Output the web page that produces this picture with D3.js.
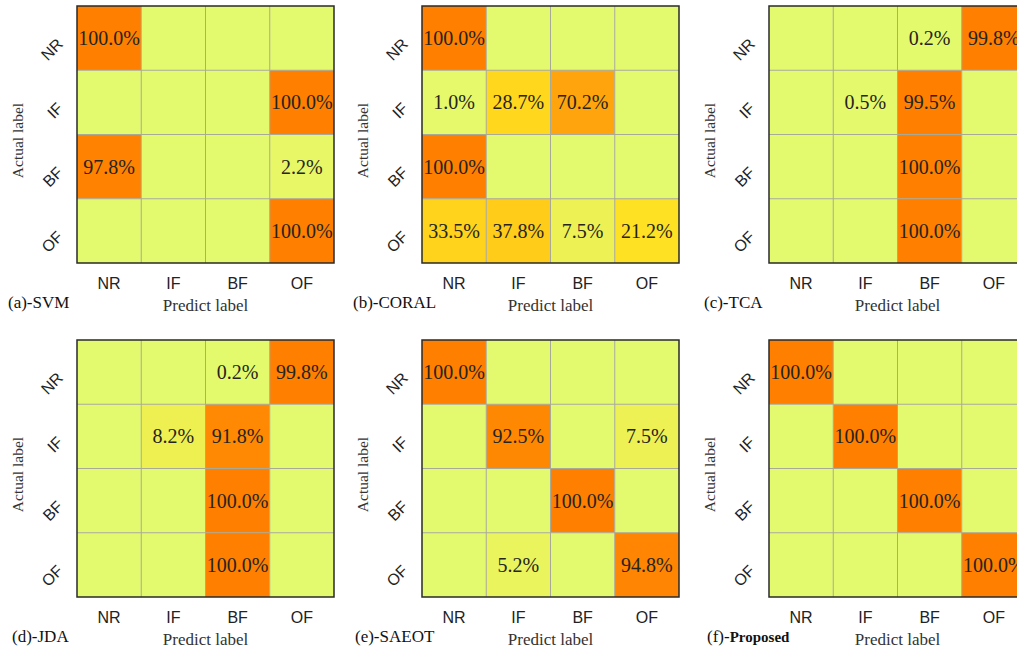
<!DOCTYPE html>
<html>
<head>
<meta charset="utf-8">
<script src="https://cdn.jsdelivr.net/npm/d3@7"></script>
<style>
  html, body { margin: 0; padding: 0; background: #fff; overflow: hidden; }
  svg { display: block; }
</style>
</head>
<body>
<svg id="chart" width="1017" height="653"></svg>
<script>
// Fault classes (rows = actual, columns = predicted)
const classes = ["NR", "IF", "BF", "OF"];

// Confusion matrices, percentages per actual class
const svm = [
  [100.0, 0, 0, 0],
  [0, 0, 0, 100.0],
  [97.8, 0, 0, 2.2],
  [0, 0, 0, 100.0]
];
const coral = [
  [100.0, 0, 0, 0],
  [1.0, 28.7, 70.2, 0],
  [100.0, 0, 0, 0],
  [33.5, 37.8, 7.5, 21.2]
];
const tca = [
  [0, 0, 0.2, 99.8],
  [0, 0.5, 99.5, 0],
  [0, 0, 100.0, 0],
  [0, 0, 100.0, 0]
];
const jda = [
  [0, 0, 0.2, 99.8],
  [0, 8.2, 91.8, 0],
  [0, 0, 100.0, 0],
  [0, 0, 100.0, 0]
];
const saeot = [
  [100.0, 0, 0, 0],
  [0, 92.5, 0, 7.5],
  [0, 0, 100.0, 0],
  [0, 5.2, 0, 94.8]
];
const proposed = [
  [100.0, 0, 0, 0],
  [0, 100.0, 0, 0],
  [0, 0, 100.0, 0],
  [0, 0, 0, 100.0]
];

const panelTags = ["(a)-", "(b)-", "(c)-", "(d)-", "(e)-", "(f)-"];
const methodNames = ["SVM", "CORAL", "TCA", "JDA", "SAEOT", "Proposed"];
const matrices = [svm, coral, tca, jda, saeot, proposed];

const SERIF = "'Liberation Serif', 'Times New Roman', serif";
const SANS = "'Liberation Sans', Arial, sans-serif";

const svg = d3.select("#chart");

const size = 257;
const panelX = [77, 422, 769];
const panelY = [6, 340];
const captionX = [[8, 353, 704], [12, 355, 707]];

const color = d3.scaleLinear()
  .domain([0, 22, 100])
  .range(["#e4fa6e", "#ffe020", "#ff7f00"])
  .clamp(true);

const x = d3.scaleBand().domain(classes).range([0, size]);
const y = d3.scaleBand().domain(classes).range([0, size]);

matrices.forEach((m, k) => {
  const row = Math.floor(k / 3), col = k % 3;
  const g = svg.append("g")
    .attr("transform", `translate(${panelX[col]},${panelY[row]})`);

  const cells = [];
  m.forEach((r, i) => r.forEach((v, j) => cells.push({ a: classes[i], p: classes[j], v })));

  g.selectAll("rect.cell")
    .data(cells)
    .join("rect")
    .attr("class", "cell")
    .attr("x", d => x(d.p))
    .attr("y", d => y(d.a))
    .attr("width", x.bandwidth())
    .attr("height", y.bandwidth())
    .attr("fill", d => color(d.v));

  // light grid between cells
  const inner = classes.slice(1);
  g.selectAll("line.vg").data(inner).join("line")
    .attr("x1", d => x(d)).attr("x2", d => x(d))
    .attr("y1", 0).attr("y2", size)
    .attr("stroke", "#a9a998").attr("stroke-width", 1);
  g.selectAll("line.hg").data(inner).join("line")
    .attr("y1", d => y(d)).attr("y2", d => y(d))
    .attr("x1", 0).attr("x2", size)
    .attr("stroke", "#a9a998").attr("stroke-width", 1);

  g.selectAll("text.val")
    .data(cells.filter(d => d.v > 0))
    .join("text")
    .attr("class", "val")
    .attr("x", d => x(d.p) + x.bandwidth() / 2)
    .attr("y", d => y(d.a) + y.bandwidth() / 2)
    .attr("dy", "0.35em")
    .attr("text-anchor", "middle")
    .attr("font-family", SERIF)
    .attr("font-size", 20)
    .attr("fill", "#262420")
    .text(d => d.v.toFixed(1) + "%");

  g.append("rect")
    .attr("x", 0).attr("y", 0)
    .attr("width", size).attr("height", size)
    .attr("fill", "none")
    .attr("stroke", "#2a2a2a")
    .attr("stroke-width", 1.5);

  // predicted-class ticks
  g.selectAll("text.xt").data(classes).join("text")
    .attr("x", d => x(d) + x.bandwidth() / 2)
    .attr("y", size + 26)
    .attr("text-anchor", "middle")
    .attr("font-family", SANS)
    .attr("font-size", 16)
    .attr("fill", "#222")
    .text(d => d);

  // actual-class ticks, slanted
  g.selectAll("text.yt").data(classes).join("text")
    .attr("transform", d => `translate(-17,${y(d) + y.bandwidth() / 2 + 3}) rotate(-45)`)
    .attr("text-anchor", "end")
    .attr("dy", "0.35em")
    .attr("font-family", SANS)
    .attr("font-size", 16)
    .attr("fill", "#222")
    .text(d => d);

  g.append("text")
    .attr("x", size / 2)
    .attr("y", size + 48)
    .attr("text-anchor", "middle")
    .attr("font-family", SERIF)
    .attr("font-size", 17)
    .attr("fill", "#333")
    .text("Predict label");

  g.append("text")
    .attr("transform", `translate(-54,${size / 2 + 6}) rotate(-90)`)
    .attr("text-anchor", "middle")
    .attr("font-family", SERIF)
    .attr("font-size", 15.5)
    .attr("fill", "#333")
    .text("Actual label");

  const cap = svg.append("text")
    .attr("x", captionX[row][col])
    .attr("y", panelY[row] + size + 45)
    .attr("font-family", SERIF)
    .attr("font-size", 17)
    .attr("fill", "#111");
  cap.append("tspan").text(panelTags[k]);
  cap.append("tspan")
    .attr("font-weight", k === 5 ? "bold" : "normal")
    .attr("font-size", k === 5 ? 15 : 17)
    .text(methodNames[k]);
});
</script>
</body>
</html>
